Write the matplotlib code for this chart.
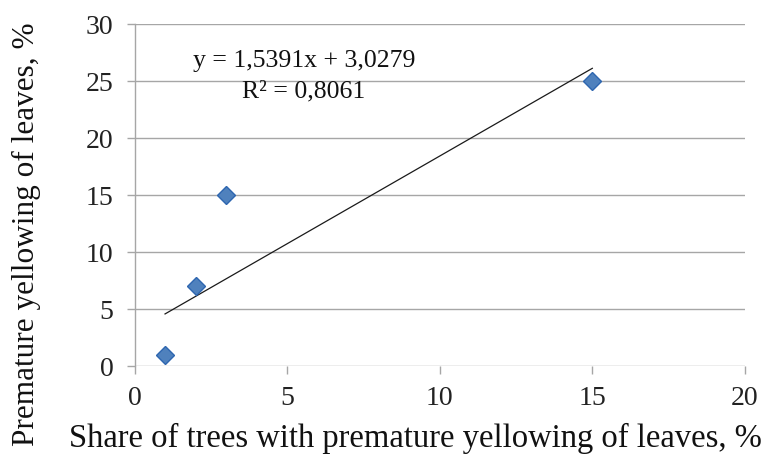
import matplotlib
matplotlib.use("Agg")
import matplotlib.pyplot as plt
import numpy as np

# Data
share_trees = [1, 2, 3, 15]
yellowing = [1, 7, 15, 25]
slope = 1.5391
intercept = 3.0279
r2 = 0.8061
x_ticks = [0, 5, 10, 15, 20]
y_ticks = [0, 5, 10, 15, 20, 25, 30]

plt.rcParams['font.family'] = ['Liberation Serif', 'DejaVu Serif']

fig = plt.figure(figsize=(7.63, 4.55), dpi=100)
ax = fig.add_axes([0.1763, 0.1956, 0.800, 0.7516])

grid_c = '#A6A6A6'
ax.set_xlim(0, 20)
ax.set_ylim(0, 30)
ax.set_xticks(x_ticks)
ax.set_yticks(y_ticks)
ax.yaxis.grid(True, color=grid_c, lw=1.0)
ax.set_axisbelow(True)
for s in ['top', 'right', 'bottom']:
    ax.spines[s].set_visible(False)
ax.spines['left'].set_color(grid_c)
ax.spines['left'].set_linewidth(1.0)
ax.tick_params(axis='both', colors=grid_c, labelcolor='#222222', labelsize=20,
               length=6, width=1.0)
ax.tick_params(axis='x', pad=8.2)
ax.tick_params(axis='y', pad=9)

# Trend line
xl = np.array([min(share_trees), max(share_trees)])
ax.plot(xl, slope * xl + intercept, color='#1a1a1a', lw=0.9, zorder=3)

ax.plot(share_trees, yellowing, linestyle='none', marker='D', markersize=9.2,
        markerfacecolor='#4F81BD', markeredgecolor='#2E66B0', markeredgewidth=1.0,
        zorder=4, clip_on=False)

def fmt(v):
    return f'{v:.4f}'.replace('.', ',')

ax.text(5.55, 26.75, f'y = {fmt(slope)}x + {fmt(intercept)}',
        ha='center', va='center', fontsize=18.5, color='#111111')
ax.text(5.55, 24.1, f'R² = {fmt(r2)}',
        ha='center', va='center', fontsize=18.5, color='#111111')

ax.set_xlabel('Share of trees with premature yellowing of leaves, %', fontsize=23.5,
              color='#111111', va='baseline')
ax.xaxis.set_label_coords(0.461, -0.236)
ax.set_ylabel('Premature yellowing of leaves, %', fontsize=22.5, color='#111111',
              va='baseline')
ax.yaxis.set_label_coords(-0.164, 0.384)

fig.savefig('out.png', dpi=100)
